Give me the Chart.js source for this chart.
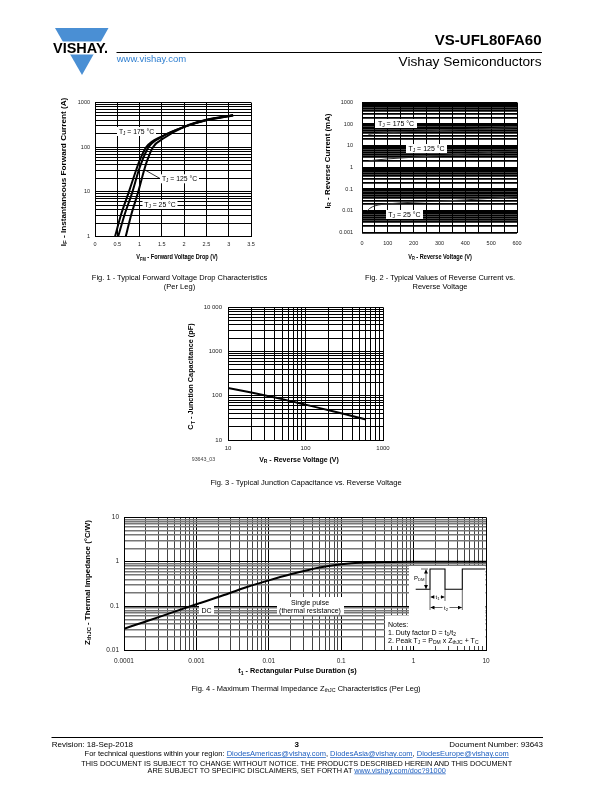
<!DOCTYPE html>
<html>
<head>
<meta charset="utf-8">
<script src="https://cdn.jsdelivr.net/npm/chart.js@4.4.1/dist/chart.umd.min.js"></script>
<style>
  body { margin: 0; background: #fff; }
  #page { position: relative; width: 612px; height: 792px; overflow: hidden; }
  .fig { position: absolute; }
  #overlay { position: absolute; left: 0; top: 0; }
</style>
</head>
<body>
<div id="page">
  <canvas class="fig" id="fig1" width="202" height="162" style="left:58px;top:95px"></canvas>
  <canvas class="fig" id="fig2" width="207" height="162" style="left:318px;top:95px"></canvas>
  <canvas class="fig" id="fig3" width="202" height="162" style="left:188px;top:300px"></canvas>
  <canvas class="fig" id="fig4" width="415" height="158" style="left:80px;top:510px"></canvas>

  <svg id="overlay" width="612" height="792" viewBox="0 0 612 792" font-family="Liberation Sans, Arial, sans-serif">
    <defs>
      <marker id="ah" markerWidth="4" markerHeight="4" refX="4" refY="2" orient="auto-start-reverse" markerUnits="userSpaceOnUse">
        <path d="M0,0 L4,2 L0,4 z" fill="#000"/>
      </marker>
    </defs>

    <!-- header -->
    <polygon points="55,28 108.5,28 82,75" fill="#4a8fd4"/>
    <rect x="50" y="41.5" width="62" height="13" fill="#fff"/>
    <text x="53" y="53.3" font-size="15" font-weight="bold" textLength="55" lengthAdjust="spacingAndGlyphs">VISHAY.</text>
    <text x="541.5" y="45" text-anchor="end" font-size="15" font-weight="bold">VS-UFL80FA60</text>
    <line x1="116.5" y1="52.5" x2="542" y2="52.5" stroke="#000" stroke-width="1"/>
    <text x="116.7" y="61.5" font-size="9.5" fill="#2f7fd0">www.vishay.com</text>
    <text x="541.5" y="65.5" text-anchor="end" font-size="12.5" textLength="143" lengthAdjust="spacingAndGlyphs">Vishay Semiconductors</text>

    <!-- fig 1 annotations -->
    <line x1="145" y1="170" x2="160" y2="178.5" stroke="#000" stroke-width="0.8"/>
    <rect x="117" y="127" width="39" height="9" fill="#fff"/>
    <text x="136.5" y="133.8" text-anchor="middle" font-size="6.8">T<tspan font-size="4.8" dy="1.3">J</tspan><tspan dy="-1.3"> = 175 °C</tspan></text>
    <rect x="160" y="174.3" width="39" height="9" fill="#fff"/>
    <text x="179.5" y="181" text-anchor="middle" font-size="6.8">T<tspan font-size="4.8" dy="1.3">J</tspan><tspan dy="-1.3"> = 125 °C</tspan></text>
    <rect x="142.5" y="200" width="35" height="9" fill="#fff"/>
    <text x="160" y="206.8" text-anchor="middle" font-size="6.8">T<tspan font-size="4.8" dy="1.3">J</tspan><tspan dy="-1.3"> = 25 °C</tspan></text>
    <text transform="translate(66,172) rotate(-90) scale(1,0.8)" text-anchor="middle" font-size="8.2" font-weight="bold">I<tspan font-size="6" dy="1.8">F</tspan><tspan dy="-1.8"> - Instantaneous Forward Current (A)</tspan></text>
    <text transform="translate(177,259) scale(0.8,1)" text-anchor="middle" font-size="7" font-weight="bold">V<tspan font-size="5" dy="1.5">FM</tspan><tspan dy="-1.5"> - Forward Voltage Drop (V)</tspan></text>
    <text x="179.5" y="279.5" text-anchor="middle" font-size="7.5">Fig. 1 - Typical Forward Voltage Drop Characteristics</text>
    <text x="179.5" y="288.5" text-anchor="middle" font-size="7.5">(Per Leg)</text>

    <!-- fig 2 annotations -->
    <rect x="375" y="119" width="42" height="9" fill="#fff"/>
    <text x="396" y="126" text-anchor="middle" font-size="7">T<tspan font-size="5" dy="1.3">J</tspan><tspan dy="-1.3"> = 175 °C</tspan></text>
    <rect x="406" y="144" width="41" height="9" fill="#fff"/>
    <text x="426.5" y="151" text-anchor="middle" font-size="7">T<tspan font-size="5" dy="1.3">J</tspan><tspan dy="-1.3"> = 125 °C</tspan></text>
    <rect x="386" y="210" width="37" height="9" fill="#fff"/>
    <text x="404.5" y="217" text-anchor="middle" font-size="7">T<tspan font-size="5" dy="1.3">J</tspan><tspan dy="-1.3"> = 25 °C</tspan></text>
    <text transform="translate(330,161) rotate(-90) scale(1,0.8)" text-anchor="middle" font-size="7.9" font-weight="bold">I<tspan font-size="5.8" dy="1.8">R</tspan><tspan dy="-1.8"> - Reverse Current (mA)</tspan></text>
    <text transform="translate(440,258.5) scale(0.8,1)" text-anchor="middle" font-size="7" font-weight="bold">V<tspan font-size="5" dy="1.5">R</tspan><tspan dy="-1.5"> - Reverse Voltage (V)</tspan></text>
    <text x="440" y="279.5" text-anchor="middle" font-size="7.5">Fig. 2 - Typical Values of Reverse Current vs.</text>
    <text x="440" y="288.5" text-anchor="middle" font-size="7.5">Reverse Voltage</text>

    <!-- fig 3 annotations -->
    <text transform="translate(193,376.5) rotate(-90)" text-anchor="middle" font-size="7.3" font-weight="bold">C<tspan font-size="5.3" dy="1.6">T</tspan><tspan dy="-1.6"> - Junction Capacitance (pF)</tspan></text>
    <text x="299" y="461.5" text-anchor="middle" font-size="7" font-weight="bold">V<tspan font-size="5" dy="1.5">R</tspan><tspan dy="-1.5"> - Reverse Voltage (V)</tspan></text>
    <text x="191.7" y="461" font-size="5.3" fill="#444">93643_03</text>
    <text x="306" y="484.5" text-anchor="middle" font-size="7.5">Fig. 3 - Typical Junction Capacitance vs. Reverse Voltage</text>

    <!-- fig 4 annotations -->
    <rect x="199" y="604.5" width="15" height="10" fill="#fff"/>
    <text x="206.5" y="613" text-anchor="middle" font-size="7">DC</text>
    <rect x="277" y="597" width="67" height="18" fill="#fff"/>
    <text x="310" y="605" text-anchor="middle" font-size="7">Single pulse</text>
    <text x="310" y="613" text-anchor="middle" font-size="7">(thermal resistance)</text>

    <rect x="409" y="566" width="76.5" height="50" fill="#fff"/>
    <rect x="385" y="615.5" width="100.5" height="30.5" fill="#fff"/>
    <path d="M415.7,589.3 H430 V569 H445 V589.3 H462.3 V569 H485" fill="none" stroke="#000" stroke-width="1.1"/>
    <line x1="421" y1="569" x2="428" y2="569" stroke="#000" stroke-width="0.6"/>
    <line x1="426" y1="569.5" x2="426" y2="589" stroke="#000" stroke-width="0.6" marker-start="url(#ah)" marker-end="url(#ah)"/>
    <text x="424.5" y="579.5" text-anchor="end" font-size="6">P<tspan font-size="4.2" dy="1.2">DM</tspan></text>
    <line x1="430" y1="589.3" x2="430" y2="610" stroke="#000" stroke-width="0.6"/>
    <line x1="445" y1="589.3" x2="445" y2="601" stroke="#000" stroke-width="0.6"/>
    <line x1="462.3" y1="589.3" x2="462.3" y2="610" stroke="#000" stroke-width="0.6"/>
    <line x1="430.5" y1="597" x2="444.5" y2="597" stroke="#000" stroke-width="0.6" marker-start="url(#ah)" marker-end="url(#ah)"/>
    <rect x="434.5" y="593.5" width="6" height="7" fill="#fff"/>
    <text x="437.5" y="599" text-anchor="middle" font-size="6">t<tspan font-size="4.2" dy="1.2">1</tspan></text>
    <line x1="430.5" y1="607.5" x2="461.8" y2="607.5" stroke="#000" stroke-width="0.6" marker-start="url(#ah)" marker-end="url(#ah)"/>
    <rect x="442.5" y="604" width="7" height="7" fill="#fff"/>
    <text x="446" y="609.5" text-anchor="middle" font-size="6">t<tspan font-size="4.2" dy="1.2">2</tspan></text>
    <text x="388" y="627" font-size="7">Notes:</text>
    <text x="388" y="635" font-size="7">1. Duty factor D = t<tspan font-size="5" dy="1.3">1</tspan><tspan dy="-1.3">/t</tspan><tspan font-size="5" dy="1.3">2</tspan></text>
    <text x="388" y="643" font-size="7">2. Peak T<tspan font-size="5" dy="1.3">J</tspan><tspan dy="-1.3"> = P</tspan><tspan font-size="5" dy="1.3">DM</tspan><tspan dy="-1.3"> x Z</tspan><tspan font-size="5" dy="1.3">thJC</tspan><tspan dy="-1.3"> + T</tspan><tspan font-size="5" dy="1.3">C</tspan></text>

    <text transform="translate(89.5,582.5) rotate(-90)" text-anchor="middle" font-size="7.9" font-weight="bold">Z<tspan font-size="5.8" dy="1.8">thJC</tspan><tspan dy="-1.8"> - Thermal Impedance (°C/W)</tspan></text>
    <text x="297.5" y="673" text-anchor="middle" font-size="7.3" font-weight="bold">t<tspan font-size="5.2" dy="1.5">1</tspan><tspan dy="-1.5"> - Rectangular Pulse Duration (s)</tspan></text>
    <text x="306" y="690.5" text-anchor="middle" font-size="7.5">Fig. 4 - Maximum Thermal Impedance Z<tspan font-size="5.3" dy="1.5">thJC</tspan><tspan dy="-1.5"> Characteristics (Per Leg)</tspan></text>

    <!-- footer -->
    <line x1="51.5" y1="737.5" x2="543" y2="737.5" stroke="#000" stroke-width="1"/>
    <text x="51.7" y="746.5" font-size="8">Revision: 18-Sep-2018</text>
    <text x="296.7" y="746.5" text-anchor="middle" font-size="8" font-weight="bold">3</text>
    <text x="543" y="746.5" text-anchor="end" font-size="8">Document Number: 93643</text>
    <text x="296.7" y="756" text-anchor="middle" font-size="7.5">For technical questions within your region: <tspan fill="#2060c0" style="text-decoration:underline">DiodesAmericas@vishay.com</tspan>, <tspan fill="#2060c0" style="text-decoration:underline">DiodesAsia@vishay.com</tspan>, <tspan fill="#2060c0" style="text-decoration:underline">DiodesEurope@vishay.com</tspan></text>
    <text x="296.7" y="765.5" text-anchor="middle" font-size="7.3">THIS DOCUMENT IS SUBJECT TO CHANGE WITHOUT NOTICE. THE PRODUCTS DESCRIBED HEREIN AND THIS DOCUMENT</text>
    <text x="296.7" y="772.5" text-anchor="middle" font-size="7.3">ARE SUBJECT TO SPECIFIC DISCLAIMERS, SET FORTH AT <tspan fill="#2060c0" style="text-decoration:underline">www.vishay.com/doc?91000</tspan></text>
  </svg>
</div>

<script>
// Fig. 1 - forward voltage drop (V) vs instantaneous forward current (A)
const vfm175 = [0.45, 0.58, 0.76, 0.92, 1.0, 1.15, 1.5, 2.0, 2.5, 3.1];
const ifm175 = [1, 3, 10, 30, 50, 100, 175, 285, 400, 510];
const vfm125 = [0.52, 0.66, 0.84, 0.98, 1.06, 1.2, 1.5, 2.0, 2.5, 3.1];
const ifm125 = [1, 3, 10, 30, 50, 100, 170, 285, 405, 515];
const vfm25 = [0.69, 0.81, 0.97, 1.1, 1.17, 1.3, 1.55, 2.0, 2.5, 3.1];
const ifm25 = [1, 3, 10, 30, 50, 100, 160, 285, 410, 525];

// Fig. 2 - reverse voltage (V) vs reverse current (mA)
const vr175 = [25, 50, 100, 200, 300, 400, 500, 600];
const ir175 = [34, 37, 40, 46, 51, 57, 63, 70];
const vr125 = [25, 50, 100, 200, 300, 400, 500, 600];
const ir125 = [2.0, 2.2, 2.5, 3.0, 3.5, 4.2, 5.0, 5.8];
const vr25 = [20, 30, 50, 100, 200, 300, 400, 500, 600];
const ir25 = [0.010, 0.013, 0.017, 0.021, 0.025, 0.028, 0.032, 0.038, 0.045];

// Fig. 3 - reverse voltage (V) vs junction capacitance (pF)
const vrCap = [10, 20, 50, 100, 200, 400, 600];
const ctCap = [150, 118, 84, 63, 47, 35, 29];

// Fig. 4 - pulse duration (s) vs thermal impedance (degC/W)
const tPulse = [0.0001, 0.0002, 0.0005, 0.001, 0.002, 0.005, 0.01, 0.02, 0.05, 0.1, 0.2, 0.5, 1, 10];
const zthJC = [0.031, 0.045, 0.075, 0.11, 0.16, 0.27, 0.38, 0.52, 0.74, 0.88, 0.96, 0.99, 1.0, 1.0];

// tick labels
const fig1XVals = [0, 0.5, 1, 1.5, 2, 2.5, 3, 3.5];
const fig1XText = ['0', '0.5', '1', '1.5', '2', '2.5', '3', '3.5'];
const fig1YVals = [1, 10, 100, 1000];
const fig1YText = ['1', '10', '100', '1000'];
const fig2XVals = [0, 100, 200, 300, 400, 500, 600];
const fig2XText = ['0', '100', '200', '300', '400', '500', '600'];
const fig2YVals = [0.001, 0.01, 0.1, 1, 10, 100, 1000];
const fig2YText = ['0.001', '0.01', '0.1', '1', '10', '100', '1000'];
const fig3XVals = [10, 100, 1000];
const fig3XText = ['10', '100', '1000'];
const fig3YVals = [10, 100, 1000, 10000];
const fig3YText = ['10', '100', '1000', '10 000'];
const fig4XVals = [0.0001, 0.001, 0.01, 0.1, 1, 10];
const fig4XText = ['0.0001', '0.001', '0.01', '0.1', '1', '10'];
const fig4YVals = [0.01, 0.1, 1, 10];
const fig4YText = ['0.01', '0.1', '1', '10'];

Chart.defaults.font.family = '"Liberation Sans", Arial, sans-serif';

// 1..9 grid lines in each decade
function logGrid(decades) {
    const g = [];
    decades.slice(0, -1).forEach(d => {
        for (let m = 1; m < 10; m++) g.push(Number((m * d).toPrecision(3)));
    });
    g.push(decades[decades.length - 1]);
    return g;
}

// vertical grid every 50 V for fig 2
const fig2XGrid = [];
for (let v = 0; v <= 600; v += 50) fig2XGrid.push(v);

const isDecade = v => Math.abs(Math.log10(v) - Math.round(Math.log10(v))) < 1e-6;

function axis(o) {
    return {
        type: o.type,
        min: o.grid[0],
        max: o.grid[o.grid.length - 1],
        afterBuildTicks: s => { s.ticks = o.grid.map(v => ({ value: v })); },
        afterFit: s => {
            if (o.w) s.width = o.w;
            if (o.h) s.height = o.h;
            // keep the plot box where the layout padding puts it
            s.paddingTop = s.paddingBottom = s.paddingLeft = s.paddingRight = 0;
        },
        ticks: {
            autoSkip: false, maxRotation: 0, minRotation: 0,
            padding: o.pad, color: '#222', font: { size: o.font },
            callback: v => {
                const i = o.vals.findIndex(t => Math.abs(t - v) <= Math.abs(t) * 1e-6 + 1e-12);
                return i < 0 ? '' : o.text[i];
            }
        },
        grid: { drawTicks: false, color: o.color || '#000', lineWidth: o.lw || 1 },
        border: { color: '#000', width: 1 }
    };
}

function series(xs, ys, width, color) {
    return {
        data: xs.map((x, i) => ({ x: x, y: ys[i] })),
        borderColor: color, borderWidth: width,
        pointRadius: 0, fill: false,
        cubicInterpolationMode: 'monotone'
    };
}

function plot(id, datasets, x, y, padTop, padRight) {
    return new Chart(document.getElementById(id), {
        type: 'line',
        data: { datasets: datasets },
        options: {
            responsive: false, animation: false, events: [],
            layout: { padding: { top: padTop, right: padRight, left: 0, bottom: 0 } },
            plugins: { legend: { display: false }, tooltip: { enabled: false } },
            scales: { x: x, y: y }
        }
    });
}

plot('fig1',
    [series(vfm175, ifm175, 2, '#000'), series(vfm125, ifm125, 2, '#000'), series(vfm25, ifm25, 2, '#000')],
    axis({ type: 'linear', grid: fig1XVals, vals: fig1XVals, text: fig1XText, h: 20.5, pad: 4.5, font: 5.5 }),
    axis({ type: 'logarithmic', grid: logGrid(fig1YVals), vals: fig1YVals, text: fig1YText, w: 37, pad: 5, font: 5.5 }),
    7.5, 9);

plot('fig2',
    [series(vr175, ir175, 1, '#333'), series(vr125, ir125, 1, '#333'), series(vr25, ir25, 1, '#333')],
    axis({ type: 'linear', grid: fig2XGrid, vals: fig2XVals, text: fig2XText, h: 24.5, pad: 8, font: 5.5 }),
    axis({ type: 'logarithmic', grid: logGrid(fig2YVals), vals: fig2YVals, text: fig2YText, w: 44, pad: 9, font: 5.5, lw: 1.7 }),
    7.5, 8);

plot('fig3',
    [series(vrCap, ctCap, 2, '#000')],
    axis({ type: 'logarithmic', grid: logGrid(fig3XVals), vals: fig3XVals, text: fig3XText, h: 22, pad: 4.5, font: 6 }),
    axis({ type: 'logarithmic', grid: logGrid(fig3YVals), vals: fig3YVals, text: fig3YText, w: 40, pad: 6, font: 6 }),
    7.3, 7);

plot('fig4',
    [series(tPulse, zthJC, 2, '#000')],
    axis({ type: 'logarithmic', grid: logGrid(fig4XVals), vals: fig4XVals, text: fig4XText, h: 17.5, pad: 6.5, font: 6.5,
        color: c => isDecade(c.tick.value) ? '#000' : '#444' }),
    axis({ type: 'logarithmic', grid: logGrid(fig4YVals), vals: fig4YVals, text: fig4YText, w: 44, pad: 5, font: 6.5,
        color: c => isDecade(c.tick.value) ? '#000' : '#777', lw: c => isDecade(c.tick.value) ? 1 : 1.4 }),
    7.3, 9);
</script>
</body>
</html>
